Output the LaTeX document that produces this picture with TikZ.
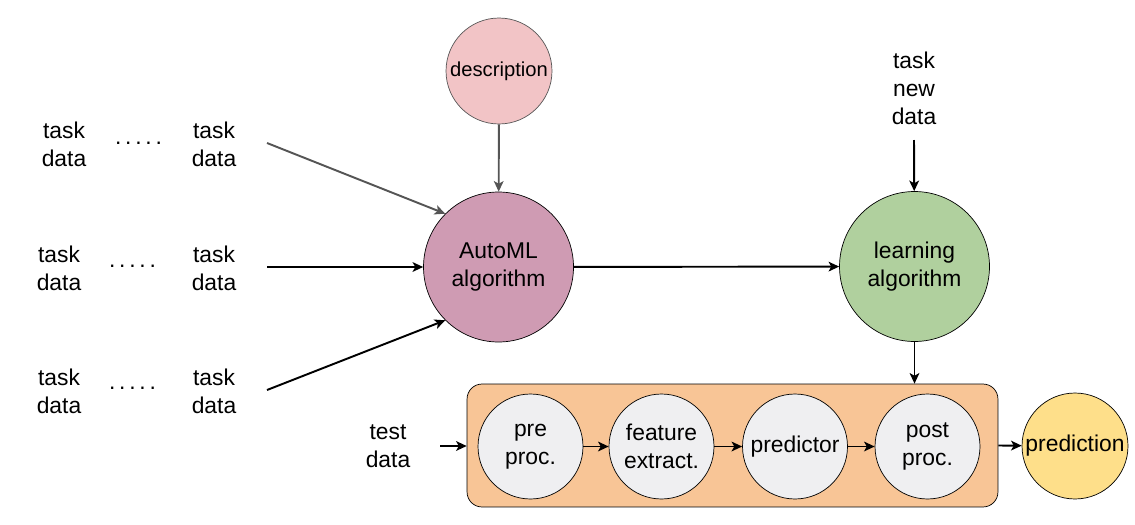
\documentclass[tikz,border=0pt]{standalone}
\usepackage{fontspec}
\setmainfont{Liberation Sans}
\usetikzlibrary{arrows.meta,positioning}
\definecolor{descpink}{RGB}{242,196,198}
\definecolor{automlpurple}{RGB}{207,155,179}
\definecolor{learngreen}{RGB}{176,208,158}
\definecolor{pipeorange}{RGB}{248,197,150}
\definecolor{stepgray}{RGB}{239,239,241}
\definecolor{predyellow}{RGB}{254,223,138}
\definecolor{arrowgray}{RGB}{85,85,85}
\tikzstyle{txt}=[font=\fontsize{13}{15.9}\selectfont,align=center,inner sep=0pt]
\tikzstyle{bigvertex}=[draw,circle,minimum size=3cm,inner sep=0pt,txt]
\tikzstyle{vertex}=[draw,circle,fill=stepgray,minimum size=2.1cm,inner sep=0pt,txt]
\tikzstyle{flow}=[-{Stealth[length=6pt,width=5.5pt,inset=1.5pt]},line width=1.1pt]

\begin{document}
\begin{tikzpicture}[x=0.02cm,y=-0.02cm]
\useasboundingbox (0,0) rectangle (1135,524);
% task data on the left
\node [txt] (t1a) at (64,144) {task\\data};
\node [txt] (d1) at (138.5,143) {.\,.\,.\,.\,.};
\node [txt] (t1b) at (214,144) {task\\data};
\node [txt] (t2a) at (59,268) {task\\data};
\node [txt] (d2) at (132.5,266) {.\,.\,.\,.\,.};
\node [txt] (t2b) at (214,268) {task\\data};
\node [txt] (t3a) at (59,391) {task\\data};
\node [txt] (d3) at (132.5,388) {.\,.\,.\,.\,.};
\node [txt] (t3b) at (214,391) {task\\data};
\coordinate (in1) at (267,143);
\coordinate (in2) at (267,267);
\coordinate (in3) at (267,390);

% description and the two algorithms
\node [bigvertex,draw=arrowgray,fill=descpink,minimum size=2.12cm,
  font=\fontsize{11.5}{14}\selectfont] (desc) at (499,71) {description};
\node [bigvertex,fill=automlpurple] (automl) at (498.5,267) {AutoML\\algorithm};
\node [bigvertex,fill=learngreen] (learn) at (914.5,266.5) {learning\\algorithm};
\node [txt] (newdata) at (914,88) {task\\new\\data};
\coordinate (newin) at (914,140);

% pipeline
\node [draw,fill=pipeorange,rounded corners=0.3cm,minimum width=10.62cm,
  minimum height=2.46cm] (pipe) at (732.5,445.5) {};
\node [vertex] (pre) at (530.5,446.5) {pre\\proc.};
\node [vertex] (feat) at (661.5,446.5) {feature\\extract.};
\node [vertex] (predictor) at (795,446.5) {predictor};
\node [vertex] (post) at (927.5,446.5) {post\\proc.};
\node [vertex,fill=predyellow,minimum size=2.12cm] (pred) at (1075,446) {prediction};
\node [txt] (test) at (388,446) {test\\data};
\coordinate (testin) at (440,446);

% arrows
\draw [flow,arrowgray] (in1) -- (automl.135);
\draw [flow] (in2) -- (automl);
\draw [flow] (in3) -- (automl.225);
\draw [flow,arrowgray] (desc) -- (automl);
\draw [flow] (automl) -- (learn);
\draw [flow] (newin) -- (learn);
\draw [flow] (learn) -- (learn |- pipe.north);
\draw [flow] (testin) -- (pipe.west |- testin);
\draw [flow] (pre) -- (feat);
\draw [flow] (feat) -- (predictor);
\draw [flow] (predictor) -- (post);
\draw [flow] (pipe.east) -- (pred);
\end{tikzpicture}
\end{document}
